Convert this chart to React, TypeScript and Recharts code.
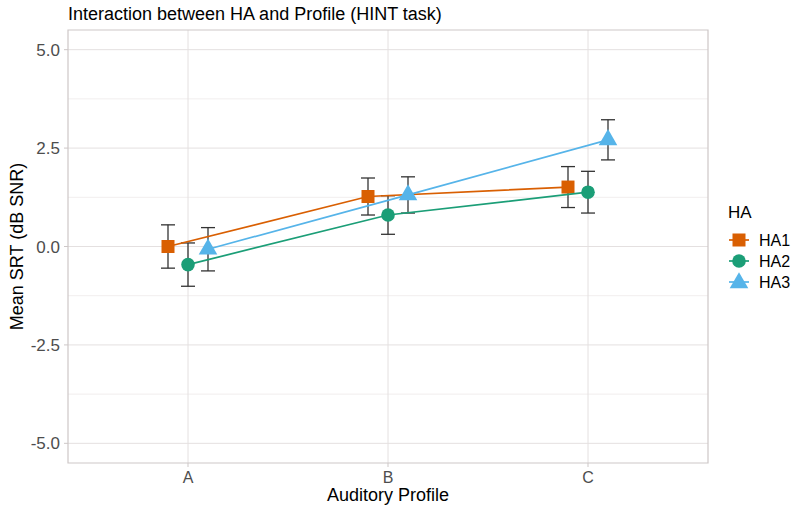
import React from "react";
import { CartesianGrid, ComposedChart, ErrorBar, ReferenceArea, Scatter, XAxis, YAxis } from "recharts";

const profiles = ["A", "B", "C"];
const yTicks = [-5, -2.5, 0, 2.5, 5];
const yMinor = [-3.75, -1.25, 1.25, 3.75];

// mean SRT and standard error per profile
const ha1Mean = [0.0, 1.27, 1.51];
const ha1Se = [0.55, 0.47, 0.52];
const ha2Mean = [-0.46, 0.8, 1.38];
const ha2Se = [0.55, 0.49, 0.53];
const ha3Mean = [-0.07, 1.31, 2.71];
const ha3Se = [0.55, 0.46, 0.51];

const FONT = '"Liberation Sans", Arial, sans-serif';

type Kind = "square" | "circle" | "triangle";

const groups: { name: string; mean: number[]; se: number[]; color: string; kind: Kind; dodge: number }[] = [
  { name: "HA1", mean: ha1Mean, se: ha1Se, color: "#D95F02", kind: "square", dodge: -0.1 },
  { name: "HA2", mean: ha2Mean, se: ha2Se, color: "#1B9E77", kind: "circle", dodge: 0 },
  { name: "HA3", mean: ha3Mean, se: ha3Se, color: "#56B4E9", kind: "triangle", dodge: 0.1 },
];

function Marker({ kind, cx, cy, color }: { kind: Kind; cx: number; cy: number; color: string }) {
  if (kind === "square") return <rect x={cx - 6.5} y={cy - 6.5} width={13} height={13} fill={color} />;
  if (kind === "circle") return <circle cx={cx} cy={cy} r={6.8} fill={color} />;
  return <polygon points={`${cx},${cy - 10.7} ${cx + 9.3},${cy + 5.35} ${cx - 9.3},${cy + 5.35}`} fill={color} />;
}

export default function App() {
  const series = groups.map((g) => ({
    ...g,
    data: profiles.map((p, i) => ({ x: i + 1 + g.dodge, profile: p, y: g.mean[i], se: g.se[i] })),
  }));

  return (
    <div style={{ position: "absolute", left: 0, top: 0, width: 800, height: 511, background: "#fff", fontFamily: FONT }}>
      <ComposedChart width={800} height={511} margin={{ top: 30, right: 92, bottom: 0, left: 0 }}>
        <CartesianGrid horizontalValues={yMinor} vertical={false} stroke="#f1eeee" strokeWidth={1} />
        <CartesianGrid horizontalValues={yTicks} verticalValues={[1, 2, 3]} stroke="#e4e0e0" strokeWidth={1} />
        <ReferenceArea x1={0.4} x2={3.6} y1={-5.5} y2={5.5} fill="none" stroke="#cdc7c7" strokeWidth={1.2} />
        <XAxis
          type="number"
          dataKey="x"
          domain={[0.4, 3.6]}
          ticks={[1, 2, 3]}
          tickFormatter={(v) => profiles[Math.round(v) - 1]}
          height={48}
          axisLine={false}
          tickSize={4}
          tickMargin={5}
          tickLine={{ stroke: "#cdc7c7" }}
          tick={{ fill: "#4d4d4d", fontSize: 16, fontFamily: FONT }}
          allowDataOverflow
          label={{ value: "Auditory Profile", position: "insideBottom", offset: 10, fill: "#000", fontSize: 18, fontFamily: FONT }}
        />
        <YAxis
          type="number"
          domain={[-5.5, 5.5]}
          ticks={yTicks}
          tickFormatter={(v) => v.toFixed(1)}
          width={68}
          axisLine={false}
          tickSize={4}
          tickMargin={4}
          tickLine={{ stroke: "#cdc7c7" }}
          tick={{ fill: "#4d4d4d", fontSize: 17, fontFamily: FONT }}
          allowDataOverflow
          label={{
            value: "Mean SRT (dB SNR)",
            angle: -90,
            position: "insideLeft",
            offset: 17,
            fill: "#000",
            fontSize: 18,
            fontFamily: FONT,
            style: { textAnchor: "middle" },
          }}
        />
        {series.map((s) => (
          <Scatter
            key={s.name}
            name={s.name}
            data={s.data}
            dataKey="y"
            fill={s.color}
            line={{ stroke: s.color, strokeWidth: 1.7 }}
            lineType="joint"
            isAnimationActive={false}
            shape={(p: any) => <Marker kind={s.kind} cx={p.cx} cy={p.cy} color={s.color} />}
          >
            <ErrorBar dataKey="se" direction="y" width={7} stroke="#333" strokeWidth={1.3} />
          </Scatter>
        ))}
      </ComposedChart>
      <svg width={800} height={511} style={{ position: "absolute", left: 0, top: 0, pointerEvents: "none" }}>
        <text x={68} y={20} fontSize={18} fill="#000" fontFamily={FONT}>
          Interaction between HA and Profile (HINT task)
        </text>
        <text x={728} y={217.7} fontSize={17} fill="#000" fontFamily={FONT}>
          HA
        </text>
        {groups.map((g, i) => {
          const cy = 240 + i * 21;
          return (
            <g key={g.name}>
              <line x1={729} x2={749} y1={cy} y2={cy} stroke={g.color} strokeWidth={1.7} />
              <Marker kind={g.kind} cx={739} cy={g.kind === "triangle" ? cy + 1 : cy} color={g.color} />
              <text x={759} y={cy + 5.7} fontSize={16} fill="#000" fontFamily={FONT}>
                {g.name}
              </text>
            </g>
          );
        })}
      </svg>
    </div>
  );
}
